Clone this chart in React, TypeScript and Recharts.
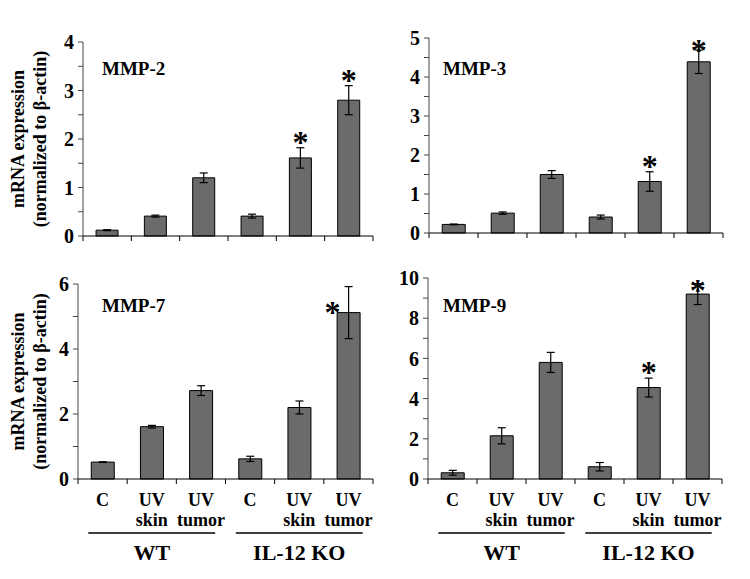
import React from "react";
import { BarChart, Bar, XAxis, YAxis, ErrorBar, LabelList, Label } from "recharts";

const categories = ["C", "UV skin", "UV tumor", "C", "UV skin", "UV tumor"];
const groups = ["WT", "WT", "WT", "IL-12 KO", "IL-12 KO", "IL-12 KO"];

const mmp2Values = [0.12, 0.41, 1.2, 0.41, 1.61, 2.8];
const mmp2Errors = [0.01, 0.02, 0.1, 0.04, 0.21, 0.3];
const mmp2Stars = [false, false, false, false, true, true];
const mmp2Ticks = [0, 0.5, 1, 1.5, 2, 2.5, 3, 3.5, 4];

const mmp3Values = [0.22, 0.51, 1.5, 0.41, 1.32, 4.39];
const mmp3Errors = [0.01, 0.03, 0.1, 0.05, 0.25, 0.3];
const mmp3Stars = [false, false, false, false, true, true];
const mmp3Ticks = [0, 0.5, 1, 1.5, 2, 2.5, 3, 3.5, 4, 4.5, 5];

const mmp7Values = [0.52, 1.61, 2.72, 0.62, 2.2, 5.12];
const mmp7Errors = [0.01, 0.04, 0.15, 0.08, 0.2, 0.8];
const mmp7Stars = [false, false, false, false, false, true];
const mmp7Ticks = [0, 1, 2, 3, 4, 5, 6];

const mmp9Values = [0.31, 2.15, 5.8, 0.61, 4.55, 9.2];
const mmp9Errors = [0.12, 0.4, 0.5, 0.21, 0.47, 0.52];
const mmp9Stars = [false, false, false, false, true, true];
const mmp9Ticks = [0, 1, 2, 3, 4, 5, 6, 7, 8, 9, 10];

type Row = { label: string; group: string; value: number; err: number; star: string };

const buildRows = (values: number[], errors: number[], stars: boolean[]): Row[] =>
  categories.map((label, i) => ({
    label,
    group: groups[i],
    value: values[i],
    err: errors[i],
    star: stars[i] ? "*" : "",
  }));

const FONT = '"Liberation Serif", "Times New Roman", serif';
const BAR_FILL = "#6b6b6b";
const BOX = "#8a8a8a";

interface PanelProps {
  title: string;
  rows: Row[];
  ticks: number[];
  labelStep: number;
  x: number;
  y: number;
  w: number;
  h: number;
  titleDx: number;
  titleDy: number;
  yLabelX?: [number, number];
  xLabels?: boolean;
  starBeside?: boolean;
}

function Panel({
  title,
  rows,
  ticks,
  labelStep,
  x,
  y,
  w,
  h,
  titleDx,
  titleDy,
  yLabelX,
  xLabels,
  starBeside,
}: PanelProps) {
  const padL = 78;
  const padT = 20;
  const padR = 12;
  const axisW = 40;
  const xAxisH = xLabels ? 50 : 8;
  const grpH = xLabels ? 40 : 0;
  const padB = 10;
  const width = w + padL + padR;
  const height = h + padT + xAxisH + grpH + padB;
  const band = w / rows.length;
  const max = ticks[ticks.length - 1];
  const left = x - padL;

  // category ticks sit on the band edges, labels in the middle
  const CatTick = (p: any) => {
    const { x: cx, y: cy, payload } = p;
    const i = payload.index;
    const parts = String(payload.value).split(" ");
    return (
      <g>
        <line x1={cx - band / 2} x2={cx - band / 2} y1={cy} y2={cy + 5} stroke="#000" />
        {i === rows.length - 1 && (
          <line x1={cx + band / 2} x2={cx + band / 2} y1={cy} y2={cy + 5} stroke="#000" />
        )}
        {xLabels && (
          <text x={cx} y={cy + 27} textAnchor="middle" fontSize={18} fontWeight="bold" fontFamily={FONT} fill="#000">
            {parts[0]}
          </text>
        )}
        {xLabels && parts[1] && (
          <text x={cx} y={cy + 47} textAnchor="middle" fontSize={18} fontWeight="bold" fontFamily={FONT} fill="#000">
            {parts[1]}
          </text>
        )}
      </g>
    );
  };

  const GroupTick = (p: any) => {
    const { x: cx, y: cy, payload } = p;
    const half = (w / 2) * 0.43;
    return (
      <g>
        <line x1={cx - half} x2={cx + half} y1={cy + 4} y2={cy + 4} stroke="#000" strokeWidth={1.5} />
        <text x={cx} y={cy + 31} textAnchor="middle" fontSize={22} fontWeight="bold" fontFamily={FONT} fill="#000">
          {payload.value}
        </text>
      </g>
    );
  };

  const renderStar = (p: any) => {
    const { x: bx, y: by, width: bw, height: bh, index } = p;
    const r = rows[index];
    if (!r || !r.star) return null;
    const unit = bh / r.value;
    let cx = bx + bw / 2;
    let base: number;
    if (starBeside) {
      cx -= 16;
      base = by + 10;
    } else {
      base = Math.max(by - r.err * unit + 5, padT + 23);
    }
    return (
      <text x={cx} y={base} textAnchor="middle" fontSize={32} fontWeight="bold" fontFamily={FONT} fill="#000">
        *
      </text>
    );
  };

  const renderDecor = () => {
    const cy = padT + h / 2;
    return (
      <g>
        <text x={padL + titleDx} y={padT + titleDy} fontSize={19} fontWeight="bold" fontFamily={FONT} fill="#000">
          {title}
        </text>
        {yLabelX && (
          <g fontSize={18} fontWeight="bold" fontFamily={FONT} fill="#000" textAnchor="middle">
            <text x={yLabelX[0] - left} y={cy} transform={`rotate(-90 ${yLabelX[0] - left} ${cy})`}>
              mRNA expression
            </text>
            <text x={yLabelX[1] - left} y={cy} transform={`rotate(-90 ${yLabelX[1] - left} ${cy})`}>
              (normalized to β-actin)
            </text>
          </g>
        )}
      </g>
    );
  };

  return (
    <div style={{ position: "absolute", left, top: y - padT }}>
      <BarChart
        width={width}
        height={height}
        data={rows}
        margin={{ top: padT, right: padR, left: padL - axisW, bottom: padB }}
        barCategoryGap="27%"
      >
        <XAxis
          dataKey="label"
          interval={0}
          height={xAxisH}
          tickLine={false}
          tickSize={0}
          tickMargin={0}
          axisLine={{ stroke: "#000" }}
          tick={<CatTick />}
        />
        {xLabels && (
          <XAxis
            xAxisId="grp"
            dataKey="group"
            allowDuplicatedCategory={false}
            interval={0}
            height={grpH}
            axisLine={false}
            tickLine={false}
            tickSize={0}
            tickMargin={0}
            tick={<GroupTick />}
          />
        )}
        <XAxis xAxisId="top" dataKey="label" orientation="top" height={0} tick={false} tickLine={false} axisLine={{ stroke: BOX }} />
        <YAxis
          domain={[0, max]}
          ticks={ticks}
          interval={0}
          width={axisW}
          tickSize={5}
          tickMargin={4}
          axisLine={{ stroke: "#444" }}
          tickLine={{ stroke: "#444" }}
          tick={{ fill: "#000", fontSize: 20, fontWeight: "bold", fontFamily: FONT }}
          tickFormatter={(v: number) => (Math.abs(v / labelStep - Math.round(v / labelStep)) < 1e-6 ? String(v) : "")}
        >
          <Label content={renderDecor} />
        </YAxis>
        <YAxis yAxisId="right" orientation="right" domain={[0, max]} width={0} tick={false} tickLine={false} axisLine={{ stroke: BOX }} />
        <Bar dataKey="value" fill={BAR_FILL} stroke="#000" strokeWidth={1} isAnimationActive={false}>
          <ErrorBar dataKey="err" width={4} stroke="#000" strokeWidth={1.2} direction="y" isAnimationActive={false} />
          <LabelList dataKey="star" content={renderStar} />
        </Bar>
      </BarChart>
    </div>
  );
}

export default function App() {
  return (
    <div style={{ position: "absolute", left: 0, top: 0, width: 750, height: 579, background: "#fff" }}>
      <Panel
        title="MMP-2"
        rows={buildRows(mmp2Values, mmp2Errors, mmp2Stars)}
        ticks={mmp2Ticks}
        labelStep={1}
        x={83}
        y={42}
        w={290}
        h={194}
        titleDx={19}
        titleDy={33}
        yLabelX={[24, 46]}
      />
      <Panel
        title="MMP-3"
        rows={buildRows(mmp3Values, mmp3Errors, mmp3Stars)}
        ticks={mmp3Ticks}
        labelStep={1}
        x={429}
        y={38}
        w={294}
        h={195}
        titleDx={14}
        titleDy={37}
      />
      <Panel
        title="MMP-7"
        rows={buildRows(mmp7Values, mmp7Errors, mmp7Stars)}
        ticks={mmp7Ticks}
        labelStep={2}
        x={78}
        y={284}
        w={295}
        h={195}
        titleDx={24}
        titleDy={28}
        yLabelX={[24, 46]}
        xLabels
        starBeside
      />
      <Panel
        title="MMP-9"
        rows={buildRows(mmp9Values, mmp9Errors, mmp9Stars)}
        ticks={mmp9Ticks}
        labelStep={2}
        x={428}
        y={278}
        w={294}
        h={201}
        titleDx={15}
        titleDy={34}
        xLabels
      />
    </div>
  );
}
